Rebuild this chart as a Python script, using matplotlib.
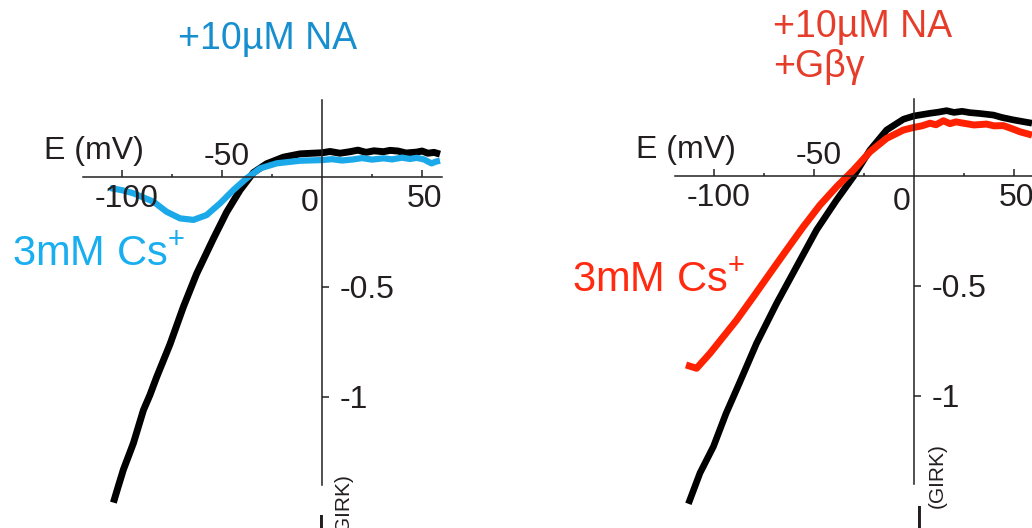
import matplotlib
matplotlib.use("Agg")
import matplotlib.pyplot as plt

# --- data: voltage (mV) and normalised GIRK current ---
na_ctrl_v = [-104.3, -102.0, -99.3, -94.3, -89.3, -86.0, -82.7, -76.0, -69.3, -62.7,
             -54.3, -47.7, -41.0, -34.3, -27.7, -19.3, -11.0, -5.0, 0.0, 4.0, 9.0,
             14.0, 18.0, 22.0, 26.0, 30.7, 34.0, 38.0, 42.0, 47.3, 50.0, 53.0, 56.0,
             59.0]
na_ctrl_i = [-1.48, -1.41, -1.33, -1.21, -1.06, -0.99, -0.91, -0.76, -0.59, -0.44,
             -0.28, -0.16, -0.06, 0.02, 0.06, 0.09, 0.105, 0.108, 0.11, 0.116, 0.108,
             0.115, 0.122, 0.112, 0.119, 0.115, 0.121, 0.118, 0.109, 0.113, 0.118,
             0.108, 0.112, 0.104]
na_cs_v = [-106.0, -100.0, -94.3, -84.3, -77.7, -71.0, -64.3, -57.7, -51.0, -44.3,
           -37.7, -31.0, -22.7, -11.0, 0.0, 5.0, 10.0, 15.7, 20.0, 25.0, 30.7, 35.0,
           40.0, 44.0, 47.3, 51.0, 53.0, 54.8, 57.0, 59.0]
na_cs_i = [-0.05, -0.06, -0.074, -0.112, -0.158, -0.188, -0.195, -0.173, -0.12, -0.059,
           -0.006, 0.039, 0.062, 0.074, 0.077, 0.081, 0.075, 0.08, 0.086, 0.079, 0.085,
           0.08, 0.088, 0.082, 0.087, 0.08, 0.07, 0.062, 0.07, 0.074]

gbg_ctrl_v = [-112.8, -107.0, -100.3, -94.0, -87.0, -78.7, -68.7, -58.7, -48.7, -38.7,
              -30.3, -22.0, -13.7, -5.3, 0.0, 4.0, 8.0, 12.0, 16.3, 20.0, 24.0, 28.0,
              33.0, 39.7, 44.0, 49.7, 54.0, 59.0]
gbg_ctrl_i = [-1.49, -1.35, -1.23, -1.08, -0.935, -0.76, -0.579, -0.412, -0.245, -0.109,
              -0.003, 0.118, 0.209, 0.258, 0.273, 0.279, 0.285, 0.29, 0.297, 0.289,
              0.294, 0.288, 0.284, 0.277, 0.266, 0.255, 0.248, 0.24]
gbg_cs_v = [-114.0, -108.7, -102.0, -95.3, -88.7, -80.3, -72.0, -63.7, -55.3, -47.0,
            -38.7, -30.3, -22.0, -13.7, -5.3, 0.0, 4.0, 8.0, 11.0, 14.7, 18.0, 21.0,
            24.7, 30.0, 36.3, 40.0, 44.7, 49.0, 53.0, 59.0]
gbg_cs_i = [-0.859, -0.874, -0.806, -0.73, -0.655, -0.549, -0.442, -0.336, -0.23, -0.132,
            -0.049, 0.027, 0.11, 0.171, 0.209, 0.221, 0.228, 0.24, 0.233, 0.251, 0.238,
            0.246, 0.24, 0.232, 0.236, 0.228, 0.229, 0.215, 0.201, 0.186]

x_major = [-100, -50, 50]
x_minor = [-75, -25, 25]
x_labels = ["-100", "-50", "0", "50"]
y_major = [-0.5, -1]
y_labels = ["-0.5", "-1"]

W, H = 1032, 528
PX_MV = 2.0      # pixels per mV
PX_I = 220.0     # pixels per unit current
INK = "#231f20"
FS = 23

plt.rcParams["font.family"] = ["Liberation Sans", "DejaVu Sans"]
plt.rcParams["mathtext.fontset"] = "custom"
plt.rcParams["mathtext.rm"] = "Liberation Sans"


def iv_axes(fig, x0, y0):
    # one transparent axes over the whole figure, origin at pixel (x0, y0)
    ax = fig.add_axes([0, 0, 1, 1])
    ax.patch.set_visible(False)
    ax.set_xlim(-x0 / PX_MV, (W - x0) / PX_MV)
    ax.set_ylim(-(H - y0) / PX_I, y0 / PX_I)
    for side in ("top", "right"):
        ax.spines[side].set_visible(False)
    for side in ("left", "bottom"):
        ax.spines[side].set_position(("data", 0))
        ax.spines[side].set_color(INK)
        ax.spines[side].set_linewidth(1.1)
    ax.spines["bottom"].set_bounds(-119.7, 60)
    ax.spines["left"].set_bounds(-1.4, 0.35)
    ax.set_xticks(x_major)
    ax.set_xticks(x_minor, minor=True)
    ax.set_yticks(y_major)
    ax.tick_params(axis="both", which="major", direction="in", length=5,
                   width=1.1, color=INK, labelbottom=False, labelleft=False)
    ax.tick_params(axis="x", which="minor", direction="in", length=2.5,
                   width=1.1, color=INK)
    ax.tick_params(axis="y", which="minor", left=False)

    # tick labels placed by hand: -50 sits above the axis, 0 left of the y axis
    offsets = [(5, -30), (5, 12), (-12.5, -34), (3, -30)]
    for val, lab, off in zip([-100, -50, 0, 50], x_labels, offsets):
        ax.annotate(lab, (val, 0), xytext=off, textcoords="offset pixels",
                    ha="center", va="baseline", fontsize=FS, color=INK)
    for val, lab in zip(y_major, y_labels):
        ax.annotate(lab, (0, val), xytext=(18, -11), textcoords="offset pixels",
                    ha="left", va="baseline", fontsize=FS, color=INK)
    ax.annotate("E (mV)", (0, 0), xytext=(-228, 18), textcoords="offset pixels",
                ha="center", va="baseline", fontsize=FS, color=INK)
    return ax


def current_label(ax, i_top, i_dx, sub_top, sub_dx):
    # upright "I" with the rotated "(GIRK)" subscript, cut by the figure edge
    ax.annotate("I", (0, 0), xytext=(i_dx, -(i_top - 6)), textcoords="offset pixels",
                ha="left", va="top", fontsize=FS, color=INK, annotation_clip=False)
    ax.annotate("(GIRK)", (0, 0), xytext=(sub_dx, -sub_top), textcoords="offset pixels",
                ha="center", va="top", rotation=90, fontsize=15, color=INK,
                annotation_clip=False)


fig = plt.figure(figsize=(W / 100, H / 100), dpi=100)

# left panel: +10uM NA
ax1 = iv_axes(fig, 322, 177)
ax1.plot(na_ctrl_v, na_ctrl_i, color="black", lw=5, solid_capstyle="butt", clip_on=False)
ax1.plot(na_cs_v, na_cs_i, color="#1ba9e9", lw=4.5, solid_capstyle="butt", clip_on=False)
current_label(ax1, 520 - 177, -5, 473 - 177, 21)
fig.text(268 / W, 1 - 49 / H, "+10\u00b5M NA", color="#178fcf", fontsize=27,
         ha="center", va="baseline")
fig.text(12 / W, 1 - 265 / H, "3mM Cs$^{+}$", color="#18aeef", fontsize=30,
         ha="left", va="baseline")

# right panel: +10uM NA + Gbetagamma
ax2 = iv_axes(fig, 914, 176)
ax2.plot(gbg_ctrl_v, gbg_ctrl_i, color="black", lw=4.8, solid_capstyle="butt", clip_on=False)
ax2.plot(gbg_cs_v, gbg_cs_i, color="#ff2200", lw=5, solid_capstyle="butt", clip_on=False)
current_label(ax2, 511 - 176, 1, 443 - 176, 23)
fig.text(773 / W, 1 - 37 / H, "+10\u00b5M NA", color="#e63c2a", fontsize=27,
         ha="left", va="baseline")
fig.text(773 / W, 1 - 77 / H, "+G\u03b2\u03b3", color="#e63c2a", fontsize=27,
         ha="left", va="baseline")
fig.text(572 / W, 1 - 292 / H, "3mM Cs$^{+}$", color="#ff2a10", fontsize=30,
         ha="left", va="baseline")

fig.savefig("out.png", dpi=100)
